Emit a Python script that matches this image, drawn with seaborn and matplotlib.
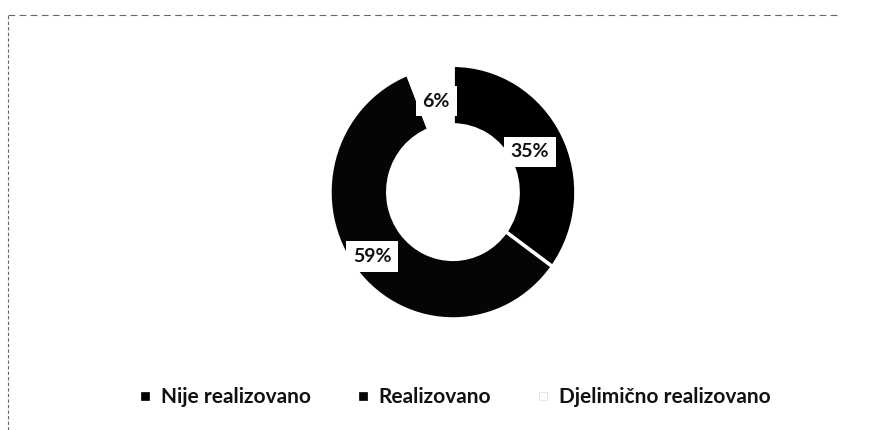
import numpy as np
import matplotlib
matplotlib.use("Agg")
import matplotlib.pyplot as plt
from matplotlib.lines import Line2D
import seaborn as sns

categories = ["Nije realizovano", "Realizovano", "Djelimično realizovano"]
values = [35, 59, 6]
pct_labels = ["35%", "59%", "6%"]

sns.set_theme(style="white")
plt.rcParams['font.family'] = ['Lato', 'DejaVu Sans']

slice_colors = ["#000000", "#050505", "#ffffff"]
label_radius = [0.70, 0.83, 0.73]

fig = plt.figure(figsize=(8.75, 4.3), dpi=100)
fig.patch.set_facecolor("white")
ax = fig.add_axes([0.3771, 0.2582, 0.2811, 0.590])
wedges, _ = ax.pie(values, startangle=90, counterclock=False, colors=slice_colors,
                   wedgeprops=dict(width=0.47, edgecolor="white", linewidth=2.5))
ax.set_xlim(-1, 1)
ax.set_ylim(-1, 1)
ax.set_aspect("auto")

total = sum(values)
cum = 0
for v, lab, r in zip(values, pct_labels, label_radius):
    mid = 90 - (cum + v / 2) / total * 360
    cum += v
    x = r * np.cos(np.deg2rad(mid))
    y = r * np.sin(np.deg2rad(mid))
    ax.text(x, y, lab, ha="center", va="center", fontsize=14, fontweight="bold",
            color="#111111",
            bbox=dict(boxstyle="square,pad=0.35", facecolor="white", edgecolor="none"))

handles = [Line2D([0], [0], marker="s", linestyle="none", markersize=6,
                  markerfacecolor=c, markeredgecolor=("#000000" if c != "#ffffff" else "#dddddd"),
                  markeredgewidth=0.5)
           for c in slice_colors]
fig.legend(handles, categories, loc="center", bbox_to_anchor=(0.52, 0.077), ncol=3,
           frameon=False, handlelength=0.6, handletextpad=0.45, columnspacing=2.2,
           prop=dict(family=['Lato', 'DejaVu Sans'], weight="bold", size=15),
           labelcolor="#111111")

# scanned chart border (left and top)
fig.add_artist(Line2D([8 / 875, 8 / 875], [0, 1 - 15 / 430], transform=fig.transFigure,
                      color="#666666", linewidth=0.8, linestyle=(0, (3, 2))))
fig.add_artist(Line2D([8 / 875, 840 / 875], [1 - 15 / 430, 1 - 15 / 430], transform=fig.transFigure,
                      color="#666666", linewidth=0.8, linestyle=(0, (6, 4))))

fig.savefig("out.png", dpi=100, facecolor="white")
